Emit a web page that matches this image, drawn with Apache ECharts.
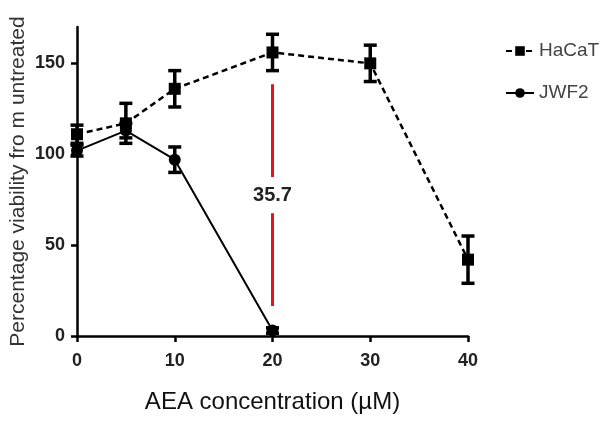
<!DOCTYPE html>
<html>
<head>
<meta charset="utf-8">
<script src="https://cdn.jsdelivr.net/npm/echarts@6/dist/echarts.min.js"></script>
<style>html,body{margin:0;padding:0;background:#fff}#c{width:608px;height:421px}</style>
</head>
<body>
<div id="c"></div>
<script>
// ---- data ----
const hacatConc = [0, 5, 10, 20, 30, 40];
const hacatMean = [111, 117, 136, 156, 150, 42];
const hacatErr  = [5, 11, 10, 10, 10, 13];
const jwf2Conc  = [0, 5, 10, 20];
const jwf2Mean  = [102, 113, 97, 3];
const jwf2Err   = [3, 4, 7, 1.5];
const yTicks = [0, 50, 100, 150];
const xTicks = [0, 10, 20, 30, 40];
const diffX = 20;
const diffUpper = [138.5, 87.5];
const diffLower = [67.5, 16.5];
const diffLabelY = 77.5;
const diffText = '35.7';

const pairs = (xs, ys) => xs.map((x, i) => [x, ys[i]]);
const triples = (xs, ys, es) => xs.map((x, i) => [x, ys[i], es[i]]);

function errRender(params, api) {
  const x = api.value(0), y = api.value(1), e = api.value(2);
  const top = api.coord([x, y + e]);
  const bot = api.coord([x, y - e]);
  const w = 6.5;
  const st = { stroke: '#000', lineWidth: 3.5 };
  return {
    type: 'group',
    children: [
      { type: 'line', shape: { x1: top[0], y1: top[1], x2: bot[0], y2: bot[1] }, style: st },
      { type: 'line', shape: { x1: top[0] - w, y1: top[1], x2: top[0] + w, y2: top[1] }, style: st },
      { type: 'line', shape: { x1: bot[0] - w, y1: bot[1], x2: bot[0] + w, y2: bot[1] }, style: st }
    ]
  };
}

const chart = echarts.init(document.getElementById('c'), null, { renderer: 'canvas' });
const tickFont = { fontFamily: 'Liberation Sans, Arial, sans-serif', fontSize: 18, fontWeight: 'bold', color: '#222' };
chart.setOption({
  animation: false,
  backgroundColor: '#fff',
  grid: { left: 77, right: 140, top: 27, bottom: 85, containLabel: false, outerBoundsMode: 'none' },
  legend: {
    data: ['HaCaT', 'JWF2'],
    orient: 'vertical',
    left: 500, top: 36,
    itemWidth: 28, itemHeight: 12, itemGap: 22,
    textStyle: { fontFamily: 'Liberation Sans, Arial, sans-serif', fontSize: 19, color: '#444', lineHeight: 20 }
  },
  xAxis: {
    type: 'value', min: 0, max: 40, interval: 10,
    name: 'AEA concentration (µM)', nameLocation: 'middle', nameGap: 54, nameMoveOverlap: false,
    nameTextStyle: { fontFamily: 'Liberation Sans, Arial, sans-serif', fontSize: 24, color: '#111' },
    axisLine: { lineStyle: { color: '#000', width: 2.5 } },
    axisTick: { length: 6, lineStyle: { color: '#000', width: 2.5 } },
    axisLabel: Object.assign({ margin: 16, customValues: xTicks }, tickFont),
    splitLine: { show: false }
  },
  yAxis: {
    type: 'value', min: 0, max: 170, interval: 50,
    name: 'Percentage viability fro m untreated', nameLocation: 'middle', nameGap: 48, nameMoveOverlap: false,
    nameTextStyle: { fontFamily: 'Liberation Sans, Arial, sans-serif', fontSize: 21, color: '#333' },
    axisLine: { lineStyle: { color: '#000', width: 2.5 } },
    axisTick: { length: 6, customValues: yTicks, lineStyle: { color: '#000', width: 2.5 } },
    axisLabel: Object.assign({ margin: 12, customValues: yTicks }, tickFont),
    splitLine: { show: false }
  },
  series: [
    {
      name: 'HaCaT', type: 'line', data: pairs(hacatConc, hacatMean),
      symbol: 'rect', symbolSize: 12, z: 3,
      lineStyle: { color: '#000', width: 2.5, type: [6, 4] },
      itemStyle: { color: '#000' }
    },
    {
      name: 'JWF2', type: 'line', data: pairs(jwf2Conc, jwf2Mean),
      symbol: 'circle', symbolSize: 12, z: 3,
      lineStyle: { color: '#000', width: 2 },
      itemStyle: { color: '#000' }
    },
    { name: 'HaCaT err', type: 'custom', renderItem: errRender, data: triples(hacatConc, hacatMean, hacatErr), z: 4 },
    { name: 'JWF2 err', type: 'custom', renderItem: errRender, data: triples(jwf2Conc, jwf2Mean, jwf2Err), z: 4 },
    {
      name: 'diff', type: 'line', symbol: 'none', z: 2,
      connectNulls: false,
      data: [[diffX, diffUpper[0]], [diffX, diffUpper[1]], [diffX, '-'], [diffX, diffLower[0]], [diffX, diffLower[1]]],
      lineStyle: { color: '#e8101a', width: 3 },
      markPoint: {
        symbol: 'circle', symbolSize: 0,
        data: [{ coord: [diffX, diffLabelY], value: diffText }],
        label: { show: true, formatter: diffText, fontFamily: 'Liberation Sans, Arial, sans-serif', fontSize: 20, fontWeight: 'bold', color: '#222' }
      }
    }
  ]
});
</script>
</body>
</html>
